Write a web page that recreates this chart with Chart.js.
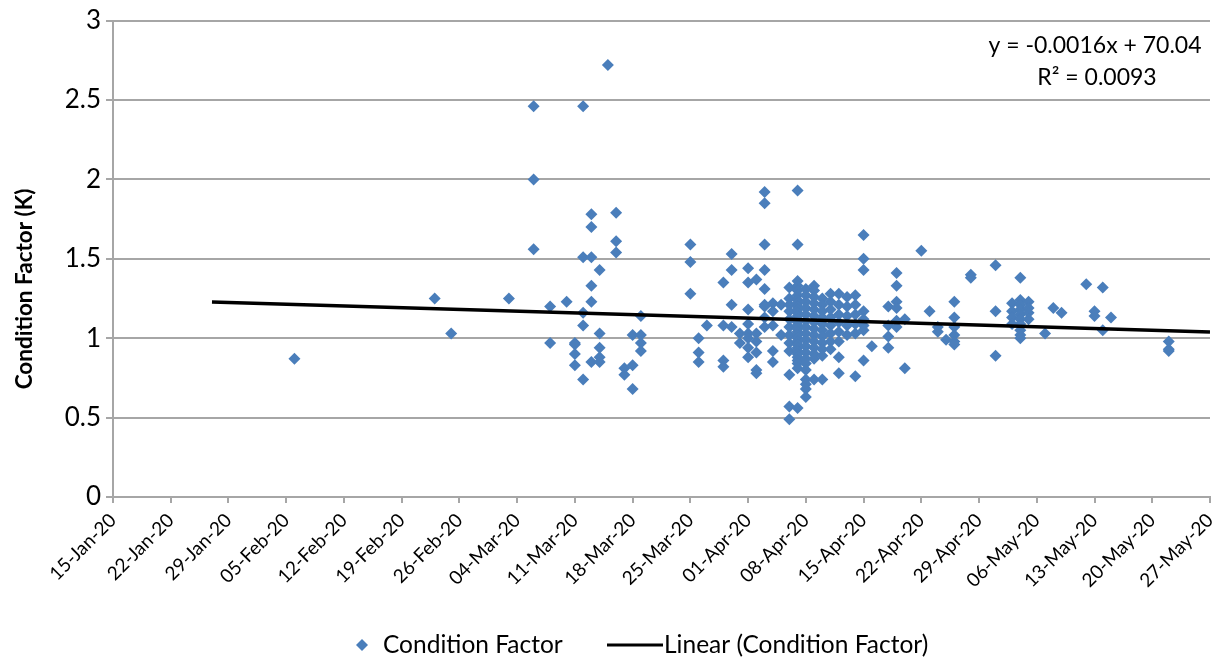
<!DOCTYPE html>
<html>
<head>
<meta charset="utf-8">
<title>Condition Factor (K)</title>
<script src="https://cdn.jsdelivr.net/npm/chart.js@4.4.0/dist/chart.umd.min.js"></script>
<style>
  html, body { margin: 0; padding: 0; background: #ffffff; }
  #wrap { position: relative; width: 1220px; height: 663px; }
</style>
</head>
<body>
<div id="wrap"><canvas id="chart" width="1220" height="663"></canvas></div>
<script>
// Sampling dates and the condition factor (K) measured on each date
const sampleDates = [
  '2020-02-06', '2020-02-23', '2020-02-25', '2020-03-03', '2020-03-06',
  '2020-03-08', '2020-03-10', '2020-03-11', '2020-03-12', '2020-03-13',
  '2020-03-14', '2020-03-15', '2020-03-16', '2020-03-17', '2020-03-18',
  '2020-03-19', '2020-03-25', '2020-03-26', '2020-03-27', '2020-03-29',
  '2020-03-30', '2020-03-31', '2020-04-01', '2020-04-02', '2020-04-03',
  '2020-04-04', '2020-04-05', '2020-04-06', '2020-04-07', '2020-04-08',
  '2020-04-09', '2020-04-10', '2020-04-11', '2020-04-12', '2020-04-13',
  '2020-04-14', '2020-04-15', '2020-04-16', '2020-04-18', '2020-04-19',
  '2020-04-20', '2020-04-22', '2020-04-23', '2020-04-24', '2020-04-25',
  '2020-04-26', '2020-04-28', '2020-05-01', '2020-05-03', '2020-05-04',
  '2020-05-05', '2020-05-07', '2020-05-08', '2020-05-09', '2020-05-12',
  '2020-05-13', '2020-05-14', '2020-05-15', '2020-05-22'
];

const kValues = [
  [0.87], [1.25], [1.03], [1.25], [2.46, 2.00, 1.56],
  [1.20, 0.97], [1.23], [0.97, 0.96, 0.90, 0.83], [2.46, 1.51, 1.16, 1.08, 0.74], [1.78, 1.70, 1.51, 1.33, 1.23, 0.85],
  [1.43, 1.03, 0.94, 0.88, 0.85], [2.72], [1.79, 1.61, 1.54], [0.81, 0.77], [1.02, 0.83, 0.68],
  [1.14, 1.02, 0.97, 0.92], [1.59, 1.48, 1.28], [1.00, 0.91, 0.85], [1.08], [1.35, 1.08, 0.86, 0.82],
  [1.53, 1.43, 1.21, 1.07], [1.03, 0.97], [1.44, 1.35, 1.18, 1.09, 1.03, 1.00, 0.94, 0.88],
  [1.37, 1.03, 0.98, 0.91, 0.80, 0.78],
  [1.92, 1.85, 1.59, 1.43, 1.31, 1.21, 1.20, 1.13, 1.07],
  [1.22, 1.17, 1.08, 0.92, 0.85], [1.21, 1.02],
  [1.32, 1.25, 1.21, 1.17, 1.12, 1.07, 1.02, 0.97, 0.92, 0.77, 0.57, 0.49],
  [1.93, 1.59, 1.36, 1.33, 1.30, 1.27, 1.24, 1.22, 1.20, 1.18, 1.16, 1.14, 1.12, 1.10, 1.08,
   1.06, 1.04, 1.02, 1.00, 0.98, 0.96, 0.94, 0.92, 0.90, 0.88, 0.86, 0.84, 0.81, 0.56],
  [1.31, 1.27, 1.23, 1.19, 1.15, 1.11, 1.07, 1.03, 0.99, 0.95, 0.91, 0.87, 0.84, 0.80, 0.74, 0.71, 0.68, 0.63],
  [1.33, 1.30, 1.26, 1.22, 1.18, 1.14, 1.10, 1.06, 1.02, 0.98, 0.94, 0.90, 0.87, 0.74],
  [1.25, 1.21, 1.17, 1.13, 1.09, 1.05, 1.01, 0.97, 0.93, 0.89, 0.74],
  [1.28, 1.23, 1.18, 1.13, 1.08, 1.03, 0.98, 0.93],
  [1.28, 1.21, 1.15, 1.10, 1.04, 0.98, 0.88, 0.78],
  [1.26, 1.20, 1.14, 1.08, 1.02],
  [1.27, 1.21, 1.15, 1.09, 1.03, 0.76],
  [1.65, 1.50, 1.43, 1.17, 1.12, 1.08, 1.05, 0.86],
  [0.95], [1.20, 1.08, 1.01, 0.94], [1.41, 1.33, 1.23, 1.19, 1.11, 1.07],
  [1.12, 0.81], [1.55], [1.17], [1.07, 1.04], [0.99],
  [1.23, 1.13, 1.07, 1.02, 0.98, 0.96], [1.40, 1.38], [1.46, 1.17, 0.89],
  [1.22, 1.17, 1.13, 1.09],
  [1.38, 1.24, 1.21, 1.18, 1.15, 1.12, 1.09, 1.05, 1.02, 1.00],
  [1.23, 1.19, 1.16, 1.12], [1.03], [1.19], [1.16], [1.34],
  [1.17, 1.14], [1.32, 1.05], [1.13], [0.98, 0.93, 0.92]
];

// Axis range and ticks
const xAxisStart = '2020-01-15';
const xAxisEnd = '2020-05-27';
const xTickStepDays = 7;
const yTickValues = [0, 0.5, 1, 1.5, 2, 2.5, 3];

// Linear trend fitted on Excel date serials
const trendSlope = -0.001569;
const trendIntercept = 70.04;
const trendRSquared = 0.0093;
const trendFrom = '2020-01-27';
const trendTo = '2020-05-27';

const MONTHS = ['Jan', 'Feb', 'Mar', 'Apr', 'May', 'Jun', 'Jul', 'Aug', 'Sep', 'Oct', 'Nov', 'Dec'];
const EXCEL_EPOCH = Date.UTC(1899, 11, 30);

function toSerial(iso) {
  const [y, m, d] = iso.split('-').map(Number);
  return Math.round((Date.UTC(y, m - 1, d) - EXCEL_EPOCH) / 86400000);
}
function serialLabel(serial) {
  const dt = new Date(EXCEL_EPOCH + serial * 86400000);
  const dd = String(dt.getUTCDate()).padStart(2, '0');
  const yy = String(dt.getUTCFullYear()).slice(2);
  return dd + '-' + MONTHS[dt.getUTCMonth()] + '-' + yy;
}

const scatterPoints = [];
sampleDates.forEach((iso, i) => {
  const x = toSerial(iso);
  kValues[i].forEach(v => scatterPoints.push({ x: x, y: v }));
});

const trendPoints = [trendFrom, trendTo].map(iso => {
  const x = toSerial(iso);
  return { x: x, y: trendSlope * x + trendIntercept };
});

const xMin = toSerial(xAxisStart);
const xMax = toSerial(xAxisEnd);
const xTickValues = [];
for (let s = xMin; s <= xMax; s += xTickStepDays) xTickValues.push(s);

const FONT = "Lato, 'Liberation Sans', sans-serif";
const GRID = '#a6a6a6';
const MARKER = '#4A7EBB';

const extras = {
  id: 'extras',
  afterDraw(chart) {
    const ctx = chart.ctx;
    ctx.save();
    ctx.fillStyle = '#000';

    // vertical axis title
    ctx.save();
    ctx.translate(25, 289);
    ctx.rotate(-Math.PI / 2);
    ctx.font = 'bold 22.5px ' + FONT;
    ctx.textAlign = 'center';
    ctx.textBaseline = 'middle';
    ctx.fillText('Condition Factor (K)', 0, 0);
    ctx.restore();

    // trend equation
    ctx.font = '23px ' + FONT;
    ctx.textAlign = 'center';
    ctx.textBaseline = 'middle';
    const sign = trendIntercept >= 0 ? ' + ' : ' - ';
    ctx.fillText('y = ' + trendSlope.toFixed(4) + 'x' + sign + Math.abs(trendIntercept).toFixed(2), 1095, 46);
    ctx.fillText('R\u00B2 = ' + trendRSquared.toFixed(4), 1097, 78);

    // legend
    const ly = 645;
    const ds = chart.data.datasets;
    ctx.fillStyle = MARKER;
    ctx.beginPath();
    ctx.moveTo(362, ly - 6);
    ctx.lineTo(368, ly);
    ctx.lineTo(362, ly + 6);
    ctx.lineTo(356, ly);
    ctx.closePath();
    ctx.fill();
    ctx.fillStyle = '#000';
    ctx.textAlign = 'left';
    ctx.font = '24.5px ' + FONT;
    ctx.fillText(ds[1].label, 383, ly);
    ctx.strokeStyle = '#000';
    ctx.lineWidth = 3;
    ctx.beginPath();
    ctx.moveTo(607, ly);
    ctx.lineTo(663, ly);
    ctx.stroke();
    ctx.fillText(ds[0].label, 664, ly);
    ctx.restore();
  }
};

new Chart(document.getElementById('chart'), {
  type: 'scatter',
  data: {
    datasets: [
      {
        type: 'line',
        label: 'Linear (Condition Factor)',
        data: trendPoints,
        borderColor: '#000000',
        borderWidth: 3.5,
        pointRadius: 0,
        fill: false,
        order: 0
      },
      {
        label: 'Condition Factor',
        data: scatterPoints,
        pointStyle: 'rectRot',
        pointRadius: 6,
        pointHoverRadius: 6,
        backgroundColor: MARKER,
        borderColor: MARKER,
        borderWidth: 0,
        order: 1
      }
    ]
  },
  options: {
    responsive: false,
    animation: false,
    devicePixelRatio: 1,
    layout: { padding: { left: 0, top: 18, right: 10, bottom: 0 } },
    plugins: {
      legend: { display: false },
      tooltip: { enabled: false }
    },
    scales: {
      x: {
        type: 'linear',
        position: 'bottom',
        min: xMin,
        max: xMax,
        afterBuildTicks: s => { s.ticks = xTickValues.map(v => ({ value: v })); },
        afterFit: s => { s.height = 166; s.paddingLeft = 0; s.paddingRight = 0; },
        ticks: {
          autoSkip: false,
          minRotation: 45,
          maxRotation: 45,
          padding: 6,
          color: '#000',
          font: { family: FONT, size: 19 },
          callback: v => serialLabel(v)
        },
        grid: { drawOnChartArea: false, drawTicks: true, tickLength: 6, color: GRID, lineWidth: 2 },
        border: { color: GRID, width: 2 }
      },
      y: {
        min: 0,
        max: 3,
        afterBuildTicks: s => { s.ticks = yTickValues.map(v => ({ value: v })); },
        afterFit: s => { s.width = 113; },
        ticks: {
          padding: 5,
          color: '#000',
          font: { family: FONT, size: 26 },
          callback: v => String(v)
        },
        grid: { color: GRID, lineWidth: 2, tickLength: 7 },
        border: { color: GRID, width: 2 }
      }
    }
  },
  plugins: [extras]
});
</script>
</body>
</html>
